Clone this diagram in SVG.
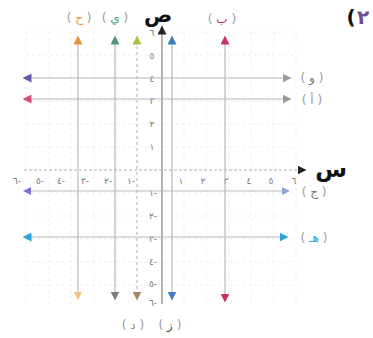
<svg xmlns="http://www.w3.org/2000/svg" width="373" height="338" viewBox="0 0 373 338">
<style>
.grid{stroke:#ebebeb;stroke-width:0.8;stroke-dasharray:3 3;fill:none}
.ln{stroke:#b9b9b9;stroke-width:1.2;fill:none}
.num{font-family:"DejaVu Sans",sans-serif;font-size:9px;fill:#777;text-anchor:middle}
.lab{font-family:"DejaVu Sans",sans-serif;font-size:12px;fill:#9a9a9a;text-anchor:middle}
.big{font-family:"DejaVu Sans",sans-serif;font-weight:bold;text-anchor:middle}
</style>
<defs>
<marker id="a-black" viewBox="0 0 10 10" refX="5" refY="5" markerWidth="9" markerHeight="9" markerUnits="userSpaceOnUse" orient="auto-start-reverse"><path d="M0,0L10,5L0,10z" fill="#222"/></marker>
<marker id="a-orange" viewBox="0 0 10 10" refX="5" refY="5" markerWidth="9" markerHeight="9" markerUnits="userSpaceOnUse" orient="auto-start-reverse"><path d="M0,0L10,5L0,10z" fill="#e8923a"/></marker>
<marker id="a-orange2" viewBox="0 0 10 10" refX="5" refY="5" markerWidth="8" markerHeight="8" markerUnits="userSpaceOnUse" orient="auto-start-reverse"><path d="M0,0L10,5L0,10z" fill="#f2c27a"/></marker>
<marker id="a-teal" viewBox="0 0 10 10" refX="5" refY="5" markerWidth="9" markerHeight="9" markerUnits="userSpaceOnUse" orient="auto-start-reverse"><path d="M0,0L10,5L0,10z" fill="#4f9a7c"/></marker>
<marker id="a-gray" viewBox="0 0 10 10" refX="5" refY="5" markerWidth="9" markerHeight="9" markerUnits="userSpaceOnUse" orient="auto-start-reverse"><path d="M0,0L10,5L0,10z" fill="#7d7d7d"/></marker>
<marker id="a-lgray" viewBox="0 0 10 10" refX="5" refY="5" markerWidth="9" markerHeight="9" markerUnits="userSpaceOnUse" orient="auto-start-reverse"><path d="M0,0L10,5L0,10z" fill="#9a9a9a"/></marker>
<marker id="a-yg" viewBox="0 0 10 10" refX="5" refY="5" markerWidth="9" markerHeight="9" markerUnits="userSpaceOnUse" orient="auto-start-reverse"><path d="M0,0L10,5L0,10z" fill="#aebb45"/></marker>
<marker id="a-brown" viewBox="0 0 10 10" refX="5" refY="5" markerWidth="9" markerHeight="9" markerUnits="userSpaceOnUse" orient="auto-start-reverse"><path d="M0,0L10,5L0,10z" fill="#a88a5a"/></marker>
<marker id="a-blue" viewBox="0 0 10 10" refX="5" refY="5" markerWidth="9" markerHeight="9" markerUnits="userSpaceOnUse" orient="auto-start-reverse"><path d="M0,0L10,5L0,10z" fill="#3b7fbf"/></marker>
<marker id="a-red" viewBox="0 0 10 10" refX="5" refY="5" markerWidth="9" markerHeight="9" markerUnits="userSpaceOnUse" orient="auto-start-reverse"><path d="M0,0L10,5L0,10z" fill="#c8305e"/></marker>
<marker id="a-purple" viewBox="0 0 10 10" refX="5" refY="5" markerWidth="9" markerHeight="9" markerUnits="userSpaceOnUse" orient="auto-start-reverse"><path d="M0,0L10,5L0,10z" fill="#6458a8"/></marker>
<marker id="a-pink" viewBox="0 0 10 10" refX="5" refY="5" markerWidth="9" markerHeight="9" markerUnits="userSpaceOnUse" orient="auto-start-reverse"><path d="M0,0L10,5L0,10z" fill="#d4507c"/></marker>
<marker id="a-violet" viewBox="0 0 10 10" refX="5" refY="5" markerWidth="8" markerHeight="8" markerUnits="userSpaceOnUse" orient="auto-start-reverse"><path d="M0,0L10,5L0,10z" fill="#7c72cc"/></marker>
<marker id="a-lblue" viewBox="0 0 10 10" refX="5" refY="5" markerWidth="8" markerHeight="8" markerUnits="userSpaceOnUse" orient="auto-start-reverse"><path d="M0,0L10,5L0,10z" fill="#8ea2da"/></marker>
<marker id="a-cyan" viewBox="0 0 10 10" refX="5" refY="5" markerWidth="9" markerHeight="9" markerUnits="userSpaceOnUse" orient="auto-start-reverse"><path d="M0,0L10,5L0,10z" fill="#2ba3d4"/></marker>
</defs>
<rect width="373" height="338" fill="#fff"/>

<g id="grid" class="grid">
<path d="M26,32V304M49,32V304M71,32V304M94,32V304M116,32V304M184,32V304M206,32V304M229,32V304M251,32V304M274,32V304M296,32V304"/>
<path d="M26,32H296M26,55H296M26,78H296M26,101H296M26,124H296M26,147H296M26,193H296M26,216H296M26,239H296M26,262H296M26,285H296"/>
</g>

<g id="axes">
<line x1="162" y1="304" x2="162" y2="30" stroke="#8a8a8a" stroke-width="1.3" marker-end="url(#a-black)"/>
<line x1="24" y1="170" x2="302" y2="170" stroke="#b0b0b0" stroke-width="1" stroke-dasharray="3 2" marker-end="url(#a-black)"/>
<text class="big" x="158" y="22" font-size="21" style="fill:#111">ص</text>
<text class="big" x="331" y="177" font-size="23" style="fill:#111">س</text>
</g>

<g id="ticks" class="num">
<text x="152" y="36">٦</text><text x="152" y="59">٥</text><text x="152" y="82">٤</text>
<text x="152" y="104">٣</text><text x="152" y="127">٢</text><text x="152" y="150">١</text>
<text x="153" y="196">١-</text><text x="153" y="219">٢-</text><text x="153" y="242">٣-</text>
<text x="153" y="265">٤-</text><text x="153" y="287">٥-</text><text x="153" y="306">٦-</text>
<text x="181" y="184">١</text><text x="203" y="184">٢</text><text x="226" y="184">٣</text>
<text x="249" y="184">٤</text><text x="271" y="184">٥</text><text x="294" y="184">٦</text>
<text x="131" y="184">١-</text><text x="108" y="184">٢-</text><text x="85" y="184">٣-</text>
<text x="61" y="184">٤-</text><text x="40" y="184">٥-</text><text x="17" y="184">٦-</text>
</g>

<g id="connectors">
<line class="ln" x1="78" y1="40" x2="78" y2="296" marker-start="url(#a-orange)" marker-end="url(#a-orange2)"/>
<line class="ln" x1="115" y1="40" x2="115" y2="296" marker-start="url(#a-teal)" marker-end="url(#a-gray)"/>
<line class="ln" x1="137" y1="40" x2="137" y2="296" stroke-dasharray="3 3" marker-start="url(#a-yg)" marker-end="url(#a-brown)"/>
<line class="ln" x1="172" y1="40" x2="172" y2="296" marker-start="url(#a-blue)" marker-end="url(#a-blue)"/>
<line class="ln" x1="225" y1="40" x2="225" y2="298" marker-start="url(#a-red)" marker-end="url(#a-red)"/>
<line class="ln" x1="27" y1="78" x2="287" y2="78" marker-start="url(#a-purple)" marker-end="url(#a-lgray)"/>
<line class="ln" x1="27" y1="99" x2="287" y2="99" marker-start="url(#a-pink)" marker-end="url(#a-lgray)"/>
<line class="ln" x1="27" y1="191" x2="286" y2="191" stroke="#ececec" marker-start="url(#a-violet)" marker-end="url(#a-lblue)"/>
<line class="ln" x1="27" y1="237" x2="284" y2="237" stroke="#c4dbe4" marker-start="url(#a-cyan)" marker-end="url(#a-cyan)"/>
</g>

<g id="label-h" class="lab"><text x="79" y="22">( <tspan fill="#e8923a">ح</tspan> )</text></g>
<g id="label-y" class="lab"><text x="115" y="22">( <tspan fill="#4f9a7c">ي</tspan> )</text></g>
<g id="label-b" class="lab"><text x="222" y="23">( <tspan fill="#c8305e">ب</tspan> )</text></g>
<g id="label-w" class="lab"><text x="312" y="82">( <tspan fill="#777">و</tspan> )</text></g>
<g id="label-a" class="lab"><text x="312" y="104">( <tspan fill="#999">أ</tspan> )</text></g>
<g id="label-j" class="lab"><text x="314" y="196">( <tspan fill="#777">ج</tspan> )</text></g>
<g id="label-ha" class="lab"><text x="314" y="242">( <tspan fill="#2ba3d4">هـ</tspan> )</text></g>
<g id="label-d" class="lab"><text x="133" y="329">( <tspan fill="#a88a5a">د</tspan> )</text></g>
<g id="label-z" class="lab"><text x="170" y="329">( <tspan fill="#555">ز</tspan> )</text></g>

<g id="number">
<text class="big" x="351" y="24" font-size="20" style="fill:#111">(</text>
<text class="big" x="363" y="24" font-size="20" style="fill:#6c4f9a">٢</text>
</g>
</svg>
